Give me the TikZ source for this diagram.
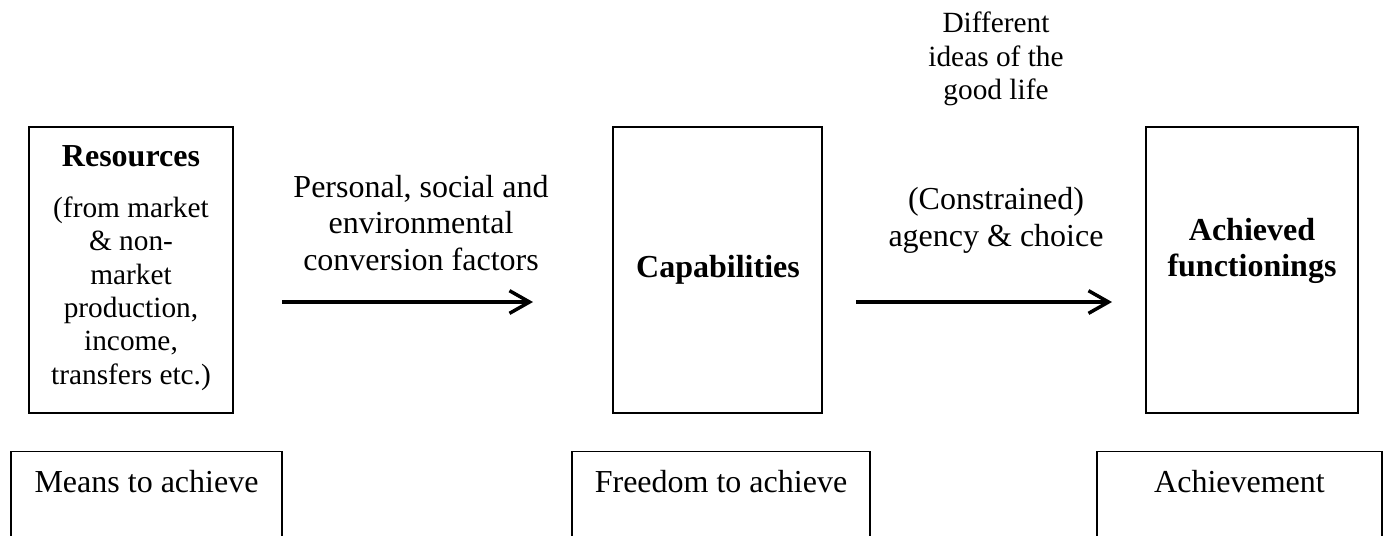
\documentclass[tikz,border=0pt]{standalone}
\usepackage{fontspec}
\setmainfont{Liberation Serif}
\usetikzlibrary{arrows.meta}

\begin{document}
\begin{tikzpicture}[x=0.375pt,y=-0.375pt]
  \tikzset{
    frame/.style={draw,line width=0.5pt,minimum height=107.25pt,inner sep=0pt},
    txt/.style={align=center,font=\fontsize{12}{13.8}\selectfont},
    bold/.style={align=center,font=\fontsize{12}{13.8}\selectfont\bfseries},
    small/.style={align=center,font=\fontsize{11}{12.5}\selectfont},
    flow/.style={line width=1.3pt,-{Straight Barb[length=7.5pt,width=8.5pt]}},
    lowbox/.style={draw,line width=0.5pt,anchor=north,inner ysep=0pt,
      text height=15.4pt,text depth=56pt,font=\fontsize{12}{13.8}\selectfont},
  }
  \useasboundingbox (0,0) rectangle (1387,535);
  \clip (0,0) rectangle (1387,535);
  %LABEL TOP
  \node[small] (ideas) at (996,59) {Different\\ideas of the\\good life};
  %BOX RESOURCES
  \node[frame,minimum width=76.5pt] (res) at (131,270) {};
  \node[bold] (resHead) at (131,156.5) {Resources};
  \node[small] (resBody) at (131,293.5) {(from market\\\& non-\\market\\production,\\income,\\transfers etc.)};
  %BOX CAPABILITIES
  \node[frame,minimum width=78.4pt] (cap) at (717.5,270) {};
  \node[bold] (capText) at (718,269.6) {Capabilities};
  %BOX FUNCTIONINGS
  \node[frame,minimum width=79.5pt] (ach) at (1252,270) {};
  \node[bold] (achText) at (1252,251) {Achieved\\functionings};
  %ARROW 1
  \coordinate (a1s) at (282,302);
  \coordinate (a1e) at (533,302);
  \draw[flow] (a1s) -- (a1e);
  \node[txt] (conv) at (421,223) {Personal, social and\\environmental\\conversion factors};
  %ARROW 2
  \coordinate (a2s) at (856,302);
  \coordinate (a2e) at (1112,302);
  \draw[flow] (a2s) -- (a2e);
  \node[txt] (agency) at (996,220.5) {(Constrained)\\agency \& choice};
  %BOTTOM BOXES
  \foreach \x/\w/\n/\t in {146.5/101.6pt/means/Means to achieve,
                           721/111.75pt/freedom/Freedom to achieve,
                           1239.5/106.9pt/achievement/Achievement}{
    \node[lowbox,minimum width=\w] (\n) at (\x,451) {\t};
  }
\end{tikzpicture}
\end{document}
